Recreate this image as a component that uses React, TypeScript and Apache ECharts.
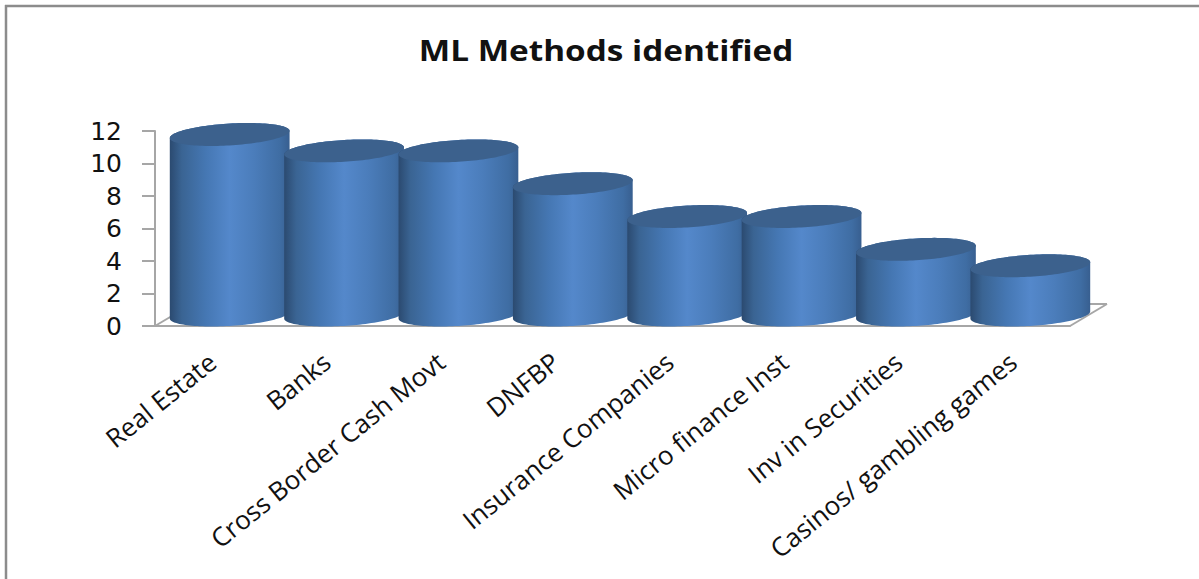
import React, { useEffect, useRef } from "react";
import * as echarts from "echarts";

const categories = [
  "Real Estate",
  "Banks",
  "Cross Border Cash Movt",
  "DNFBP",
  "Insurance Companies",
  "Micro finance Inst",
  "Inv in Securities",
  "Casinos/ gambling games",
];
const values = [11, 10, 10, 8, 6, 6, 4, 3];
const yTicks = { min: 0, max: 12, interval: 2 };

const LABEL_FONT = "'Open Sans', sans-serif";

export default function App() {
  const ref = useRef<HTMLDivElement>(null);
  useEffect(() => {
    document.body.style.margin = "0";
    const chart = echarts.init(ref.current!, null, { renderer: "svg" });

    const cylinderFill = {
      type: "linear", x: 0, y: 0, x2: 1, y2: 0,
      colorStops: [
        { offset: 0, color: "#2b4a70" },
        { offset: 0.1, color: "#3a6493" },
        { offset: 0.3, color: "#4577b3" },
        { offset: 0.5, color: "#5488cb" },
        { offset: 0.7, color: "#4b7dbb" },
        { offset: 0.92, color: "#3f6da3" },
        { offset: 1, color: "#385f90" },
      ],
    };

    chart.setOption({
      animation: false,
      backgroundColor: "#ffffff",
      graphic: [
        {
          type: "line", silent: true,
          shape: { x1: 5, y1: 6, x2: 1199, y2: 6 },
          style: { stroke: "#8c8c8c", lineWidth: 2.5 },
        },
        {
          type: "line", silent: true,
          shape: { x1: 6, y1: 5, x2: 6, y2: 579 },
          style: { stroke: "#8c8c8c", lineWidth: 2.5 },
        },
        {
          type: "text", silent: true,
          x: 606, y: 50, scaleX: 1.19,
          style: {
            text: "ML Methods identified",
            x: 0, y: 0, align: "center", verticalAlign: "middle",
            fontFamily: LABEL_FONT, fontSize: 28, fontWeight: "bold", fill: "#111111",
          },
        },
      ],
      grid: { left: 155, top: 131, width: 915, height: 195 },
      xAxis: {
        type: "category",
        data: categories,
        axisLine: { lineStyle: { color: "#a6a6a6", width: 2 } },
        axisTick: { show: false },
        axisLabel: {
          interval: 0, rotate: 39, margin: 32,
          fontFamily: LABEL_FONT, fontSize: 26, color: "#111111",
        },
      },
      yAxis: {
        type: "value",
        min: yTicks.min, max: yTicks.max, interval: yTicks.interval,
        splitLine: { show: false },
        axisLine: { show: true, lineStyle: { color: "#a6a6a6", width: 2 } },
        axisTick: { show: true, length: 13, lineStyle: { color: "#a6a6a6", width: 2 } },
        axisLabel: { margin: 33, fontFamily: "'DejaVu Sans', sans-serif", fontSize: 25, color: "#111111" },
      },
      series: [
        {
          type: "custom",
          silent: true,
          z: 1,
          data: [0],
          renderItem: (_p: any, api: any) => {
            const [x0, y0] = api.coord([0, 0]);
            const band = api.size([1, 0])[0];
            const x1 = x0 - band / 2;
            const xr = x1 + band * 8;
            const style = { stroke: "#a6a6a6", lineWidth: 2, fill: "none" };
            return {
              type: "group",
              children: [
                { type: "line", shape: { x1, y1: y0, x2: x1 + 37, y2: y0 - 22 }, style },
                { type: "line", shape: { x1: xr, y1: y0, x2: xr + 37, y2: y0 - 22 }, style },
                { type: "line", shape: { x1: x1 + 37, y1: y0 - 22, x2: xr + 37, y2: y0 - 22 }, style },
              ],
            };
          },
        },
        {
          type: "custom",
          silent: true,
          z: 2,
          data: values.map((v, i) => [i, v]),
          encode: { x: 0, y: 1 },
          renderItem: (_p: any, api: any) => {
            const [bx, by] = api.coord([api.value(0), 0]);
            const [, ty] = api.coord([api.value(0), api.value(1)]);
            const cx = bx + 17.5;
            const a = 60;
            const b = 10.9;
            const th = (-3.5 * Math.PI) / 180;
            const botY = by - 11;
            const topY = botY - (by - ty) * 1.01;
            const t0 = Math.atan2(-b * Math.sin(th), a * Math.cos(th));
            const pt = (cy: number, t: number) => [
              cx + a * Math.cos(t) * Math.cos(th) - b * Math.sin(t) * Math.sin(th),
              cy + a * Math.cos(t) * Math.sin(th) + b * Math.sin(t) * Math.cos(th),
            ];
            const N = 60;
            const arc = (cy: number, from: number) =>
              Array.from({ length: N + 1 }, (_, k) => pt(cy, from - (Math.PI * k) / N));
            // lower edge runs left to right, upper edge right to left
            const bottomEdge = arc(botY, t0 + Math.PI);
            const topEdge = arc(topY, t0);
            const capLower = arc(topY, t0 + Math.PI);
            return {
              type: "group",
              children: [
                { type: "polygon", shape: { points: [...bottomEdge, ...topEdge] }, style: { fill: cylinderFill } },
                { type: "polygon", shape: { points: [...capLower, ...topEdge] }, style: { fill: "#3c618d" } },
              ],
            };
          },
        },
      ],
    });
    return () => chart.dispose();
  }, []);
  return <div ref={ref} style={{ width: 1199, height: 579 }} />;
}
